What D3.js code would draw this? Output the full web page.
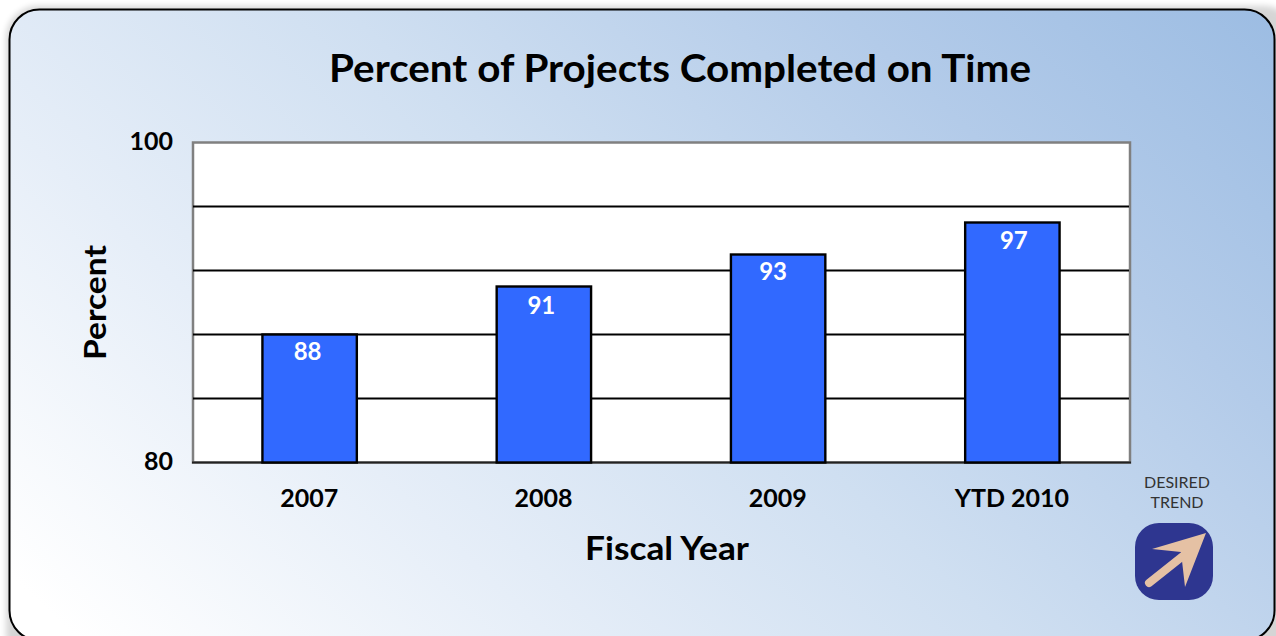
<!DOCTYPE html>
<html><head><meta charset="utf-8">
<script src="https://cdn.jsdelivr.net/npm/d3@7"></script>
<style>html,body{margin:0;padding:0;background:#fff;overflow:hidden}svg{display:block}text{font-family:Lato,"Open Sans",sans-serif}</style>
</head><body><svg id="c" width="1276" height="636"></svg>
<script>
const categories = ["2007","2008","2009","YTD 2010"];
const barValues = [88,91,93,95];
const barLabels = ["88","91","93","97"];
const gridValues = [84,88,92,96];
const axisValues = [80,100];
const chartTitle = "Percent of Projects Completed on Time";
const xTitle = "Fiscal Year";
const yTitle = "Percent";
const trendLabel = ["DESIRED","TREND"];

const svg = d3.select("#c");
const defs = svg.append("defs");
const grad = defs.append("linearGradient").attr("id","bg").attr("gradientUnits","userSpaceOnUse")
  .attr("x1",190).attr("y1",800).attr("x2",1090).attr("y2",-150);
[[0.03,"#ffffff"],[0.28,"#e6eef8"],[0.52,"#cfdff1"],[0.78,"#b3cbe9"],[1,"#9dbde3"]].forEach(s=>grad.append("stop").attr("offset",s[0]).attr("stop-color",s[1]));
const blur = defs.append("filter").attr("id","sh").attr("x","-2%").attr("y","-2%").attr("width","104%").attr("height","104%");
blur.append("feGaussianBlur").attr("stdDeviation",3);

svg.append("rect").attr("x",6).attr("y",6).attr("width",1290).attr("height",660).attr("rx",32)
  .attr("fill","#000").attr("opacity",0.16).attr("filter","url(#sh)");
svg.append("rect").attr("x",9.5).attr("y",9.5).attr("width",1265).attr("height",631).attr("rx",30)
  .attr("fill","url(#bg)").attr("stroke","#000").attr("stroke-width",2);

const pLeft=193,pRight=1130,pTop=142.5,pBottom=462.5;
const x = d3.scaleBand().domain(categories).range([pLeft,pRight]).paddingInner(0.597).paddingOuter(0.2985);
const y = d3.scaleLinear().domain([axisValues[0],axisValues[1]]).range([pBottom,pTop]);

svg.append("rect").attr("x",pLeft).attr("y",pTop).attr("width",pRight-pLeft).attr("height",pBottom-pTop)
  .attr("fill","#fff").attr("stroke","#808080").attr("stroke-width",2.5);

svg.append("g").selectAll("line").data(gridValues).join("line")
  .attr("x1",pLeft).attr("x2",pRight-1).attr("y1",d=>y(d)).attr("y2",d=>y(d))
  .attr("stroke","#000").attr("stroke-width",2);

svg.append("line").attr("x1",pLeft-1).attr("x2",pRight+1).attr("y1",pBottom).attr("y2",pBottom).attr("stroke","#222").attr("stroke-width",2);

svg.append("g").attr("transform","translate(-0.5,0)").selectAll("rect").data(barValues).join("rect")
  .attr("x",(d,i)=>x(categories[i])).attr("width",x.bandwidth())
  .attr("y",d=>y(d)).attr("height",d=>pBottom-y(d))
  .attr("fill","#3169ff").attr("stroke","#000").attr("stroke-width",2.4);

const labelNudgeX = [-2.5,-3,-5.5,1];
const labelNudgeY = [0,2,0,1];
svg.append("g").selectAll("text").data(barValues).join("text")
  .attr("x",(d,i)=>x(categories[i])+x.bandwidth()/2+labelNudgeX[i]).attr("y",(d,i)=>y(d)+25+labelNudgeY[i])
  .attr("text-anchor","middle").attr("fill","#fff").attr("font-weight",700).attr("font-size",24)
  .text((d,i)=>barLabels[i]);

const yAxis = d3.axisLeft(y).tickValues(axisValues).tickSize(0).tickPadding(20).tickFormat(d3.format("d"));
const ya = svg.append("g").attr("transform",`translate(${pLeft},-1)`).call(yAxis);
ya.select(".domain").remove();
ya.selectAll("text").attr("font-size",25).attr("font-weight",700).attr("fill","#000").attr("font-family","Lato");

const xAxis = d3.axisBottom(x).tickSize(0).tickPadding(27);
const xa = svg.append("g").attr("transform",`translate(0,${pBottom})`).call(xAxis);
xa.select(".domain").remove();
xa.selectAll("text").attr("font-size",25).attr("font-weight",700).attr("fill","#000").attr("font-family","Lato").attr("dx",-1);

svg.append("text").attr("x",680).attr("y",82).attr("text-anchor","middle")
  .attr("font-size",38).attr("font-weight",700).attr("fill","#000").attr("textLength",702).attr("lengthAdjust","spacingAndGlyphs").text(chartTitle);
svg.append("text").attr("x",667).attr("y",560).attr("text-anchor","middle")
  .attr("font-size",32).attr("font-weight",700).attr("fill","#000").attr("textLength",164).attr("lengthAdjust","spacingAndGlyphs").text(xTitle);
svg.append("text").attr("transform","translate(106,302.5) rotate(-90)").attr("text-anchor","middle")
  .attr("font-size",31).attr("font-weight",700).attr("fill","#000").attr("textLength",115).attr("lengthAdjust","spacingAndGlyphs").text(yTitle);

svg.append("g").selectAll("text").data(trendLabel).join("text")
  .attr("x",1177).attr("y",(d,i)=>488+i*20).attr("text-anchor","middle")
  .attr("font-size",16).attr("fill","#333").text(d=>d);

svg.append("rect").attr("x",1135).attr("y",523).attr("width",78).attr("height",77).attr("rx",24).attr("fill","#2e3690");
svg.append("line").attr("x1",1149).attr("y1",583).attr("x2",1188).attr("y2",552)
  .attr("stroke","#e5c1a4").attr("stroke-width",8).attr("stroke-linecap","round");
svg.append("path").attr("d",d3.line()([[1206,533],[1152,549],[1181,552],[1185,587]])+"Z").attr("fill","#e5c1a4");
</script></body></html>
